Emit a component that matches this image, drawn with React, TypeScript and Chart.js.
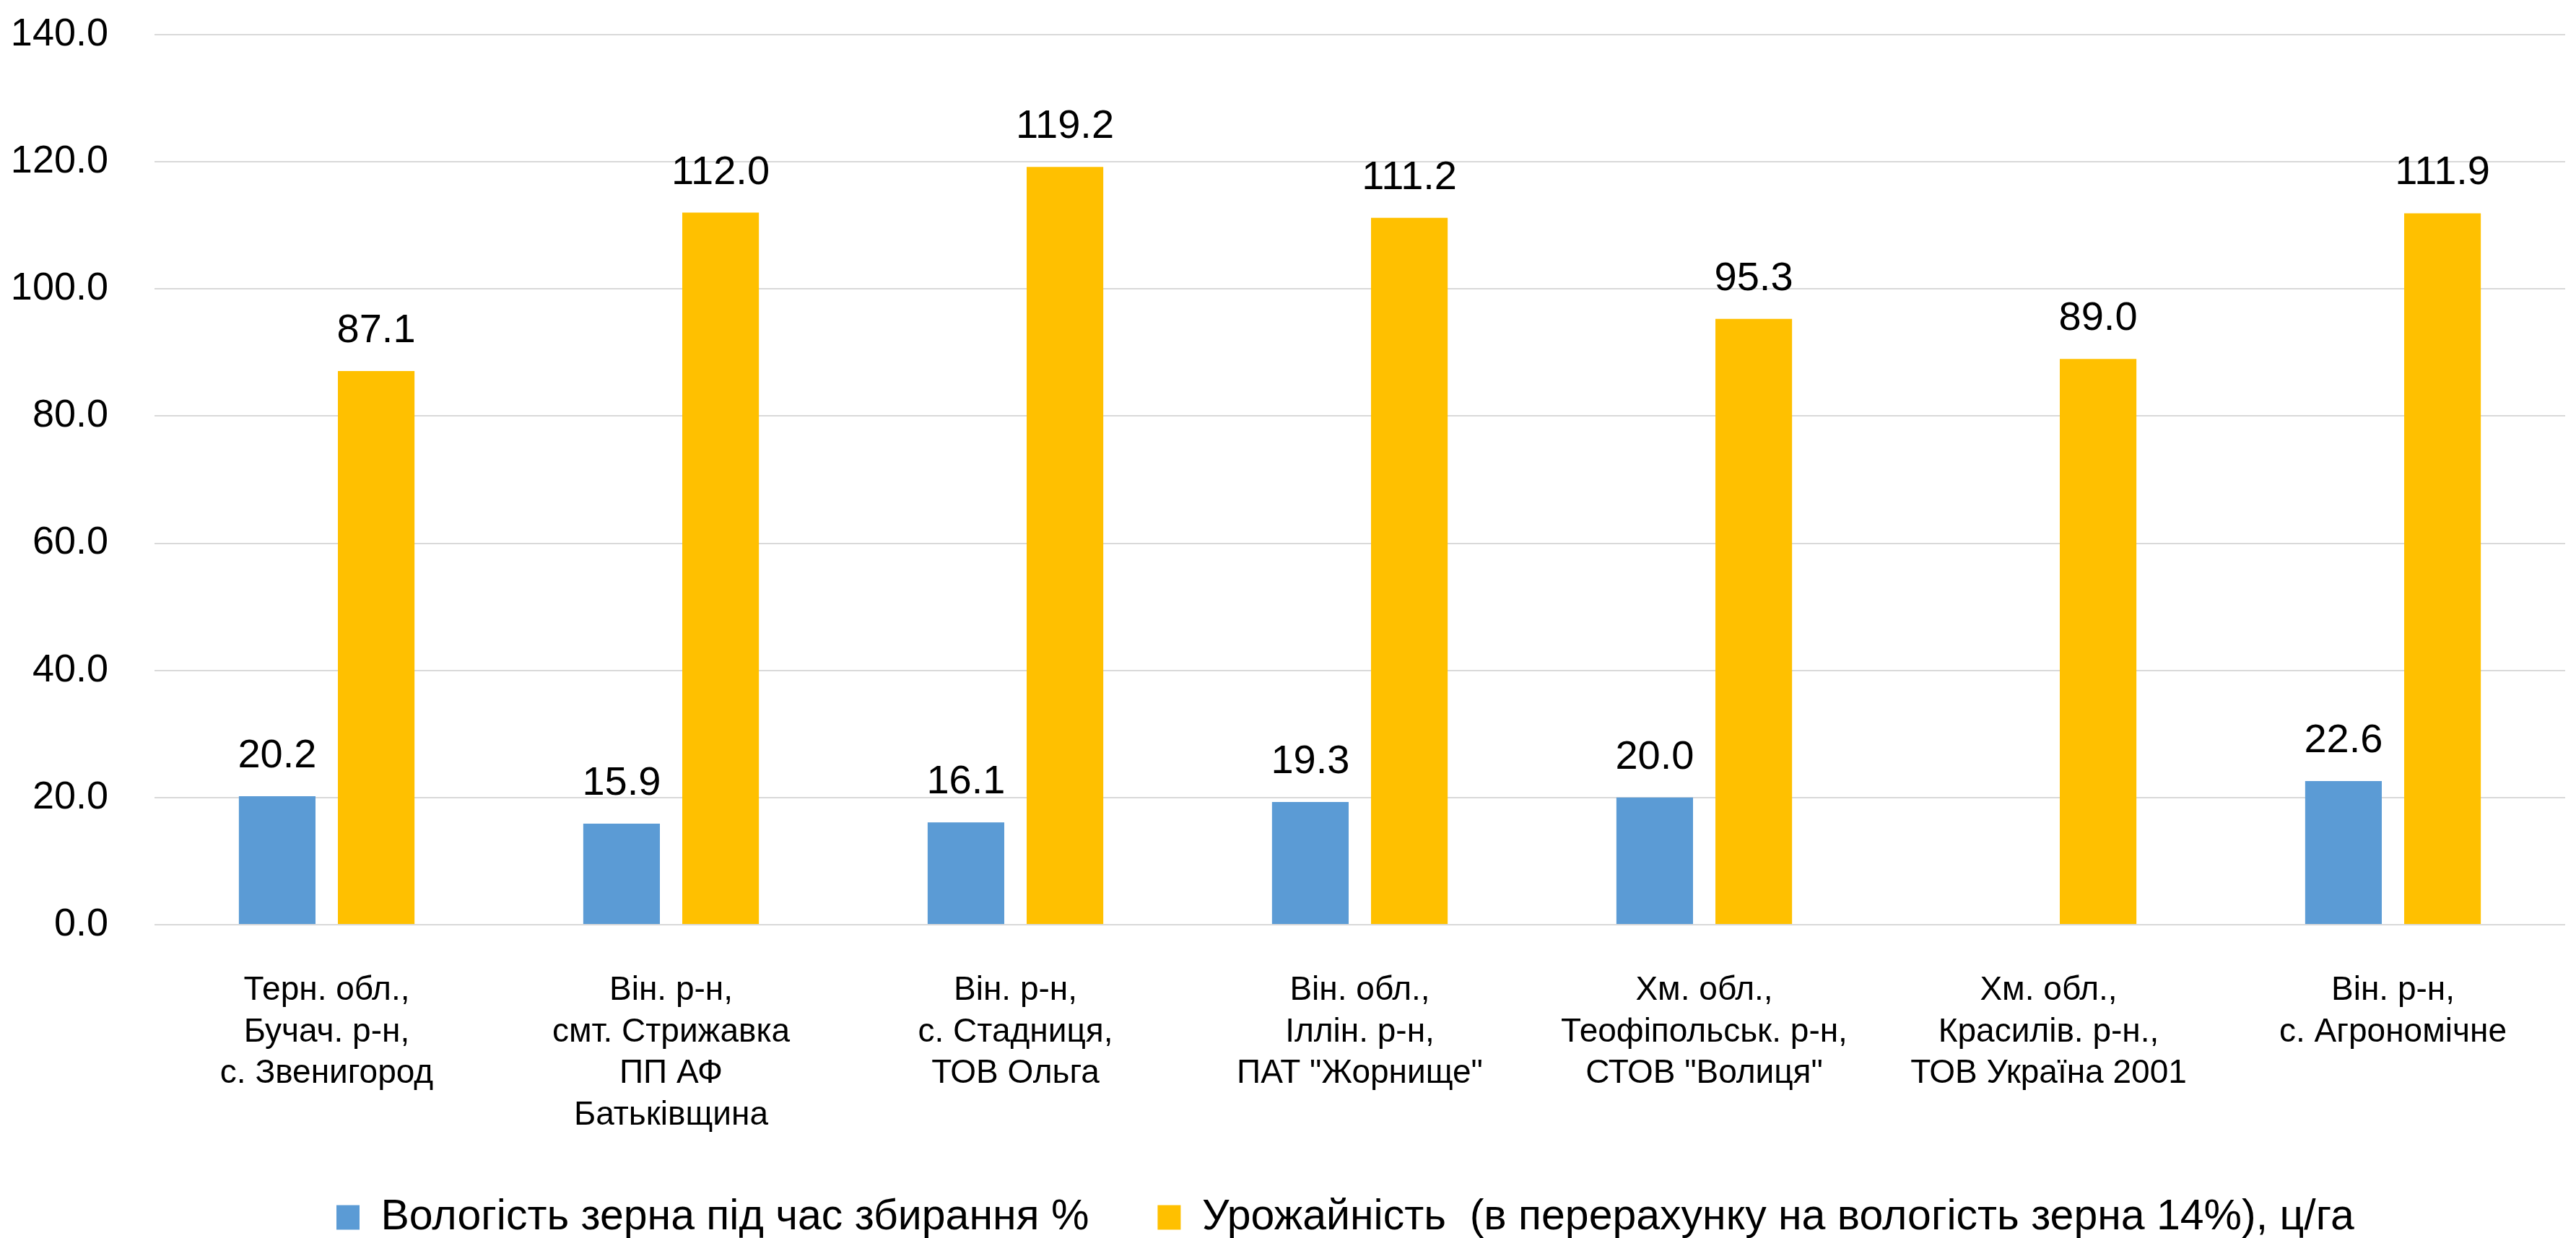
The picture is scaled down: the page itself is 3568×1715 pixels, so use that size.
import React, { useEffect, useRef } from "react";
import { Chart, registerables } from "chart.js";

Chart.register(...registerables);

const FONT = "'Liberation Sans', Arial, Helvetica, sans-serif";

const categories: string[][] = [
  ["Терн. обл.,", "Бучач. р-н,", "с. Звенигород"],
  ["Він. р-н,", "смт. Стрижавка", "ПП АФ", "Батьківщина"],
  ["Він. р-н,", "с. Стадниця,", "ТОВ Ольга"],
  ["Він. обл.,", "Іллін. р-н,", "ПАТ \"Жорнище\""],
  ["Хм. обл.,", "Теофіпольськ. р-н,", "СТОВ \"Волиця\""],
  ["Хм. обл.,", "Красилів. р-н.,", "ТОВ Україна 2001"],
  ["Він. р-н,", "с. Агрономічне"],
];

const moisture: (number | null)[] = [20.2, 15.9, 16.1, 19.3, 20.0, null, 22.6];
const yieldValues: number[] = [87.1, 112.0, 119.2, 111.2, 95.3, 89.0, 111.9];

const seriesNames: string[] = [
  "Вологість зерна під час збирання %",
  "Урожайність  (в перерахунку на вологість зерна 14%), ц/га",
];
const seriesColors: string[] = ["#5B9BD5", "#FFC000"];

const yMin = 0;
const yMax = 140;
const yStep = 20;

const valueLabels = {
  id: "valueLabels",
  afterDatasetsDraw(chart: any) {
    const ctx = chart.ctx;
    ctx.save();
    ctx.font = `56px ${FONT}`;
    ctx.fillStyle = "#000000";
    ctx.textAlign = "center";
    ctx.textBaseline = "alphabetic";
    chart.data.datasets.forEach((ds: any, i: number) => {
      const meta = chart.getDatasetMeta(i);
      meta.data.forEach((el: any, j: number) => {
        const v = ds.data[j];
        if (v === null || v === undefined) return;
        ctx.fillText(Number(v).toFixed(1), el.x, el.y - 40);
      });
    });
    ctx.restore();
  },
};

// place the legend row where the reference has it
const legendPlace = {
  id: "legendPlace",
  afterLayout(chart: any) {
    const lg = chart.legend;
    if (!lg) return;
    const w = lg.width;
    lg.left = 371;
    lg.right = 371 + w;
    lg.top = 1562;
    lg.bottom = chart.height;
    lg.height = chart.height - 1562;
  },
};

export default function App() {
  const ref = useRef<HTMLCanvasElement | null>(null);

  useEffect(() => {
    document.body.style.margin = "0";
    const canvas = ref.current;
    if (!canvas) return;
    const chart = new Chart(canvas, {
      type: "bar",
      data: {
        labels: categories,
        datasets: [
          {
            label: seriesNames[0],
            data: moisture,
            backgroundColor: seriesColors[0],
            borderWidth: 0,
            barPercentage: 0.774,
            categoryPercentage: 0.575,
          },
          {
            label: seriesNames[1],
            data: yieldValues,
            backgroundColor: seriesColors[1],
            borderWidth: 0,
            barPercentage: 0.774,
            categoryPercentage: 0.575,
          },
        ],
      },
      options: {
        responsive: false,
        animation: false,
        devicePixelRatio: 1,
        layout: { padding: { left: 0, right: 15, top: 48, bottom: 0 } },
        plugins: {
          tooltip: { enabled: false },
          title: { display: false },
          legend: {
            display: true,
            position: "bottom",
            align: "start",
            maxHeight: 134,
            labels: {
              font: { family: FONT, size: 59 },
              color: "#000000",
              boxWidth: 32,
              boxHeight: 34,
              padding: 95,
            },
          },
        },
        scales: {
          x: {
            grid: { display: false, drawTicks: false },
            border: { display: false },
            ticks: {
              color: "#000000",
              font: { family: FONT, size: 46, lineHeight: 1.25 },
              padding: 63,
              maxRotation: 0,
              minRotation: 0,
              autoSkip: false,
            },
            afterFit: (scale: any) => {
              scale.height = 300;
              scale.paddingLeft = 0;
              scale.paddingRight = 0;
            },
          },
          y: {
            min: yMin,
            max: yMax,
            grid: { color: "#D9D9D9", lineWidth: 2, drawTicks: false },
            border: { display: false },
            ticks: {
              stepSize: yStep,
              color: "#000000",
              font: { family: FONT, size: 54 },
              padding: 64,
              callback: (v: any) => Number(v).toFixed(1),
            },
            afterFit: (scale: any) => {
              scale.width = 214;
              scale.paddingTop = 0;
              scale.paddingBottom = 0;
            },
          },
        },
      },
      plugins: [valueLabels, legendPlace],
    });
    return () => chart.destroy();
  }, []);

  return (
    <canvas
      ref={ref}
      width={3568}
      height={1715}
      style={{ display: "block", width: "3568px", height: "1715px" }}
    />
  );
}
